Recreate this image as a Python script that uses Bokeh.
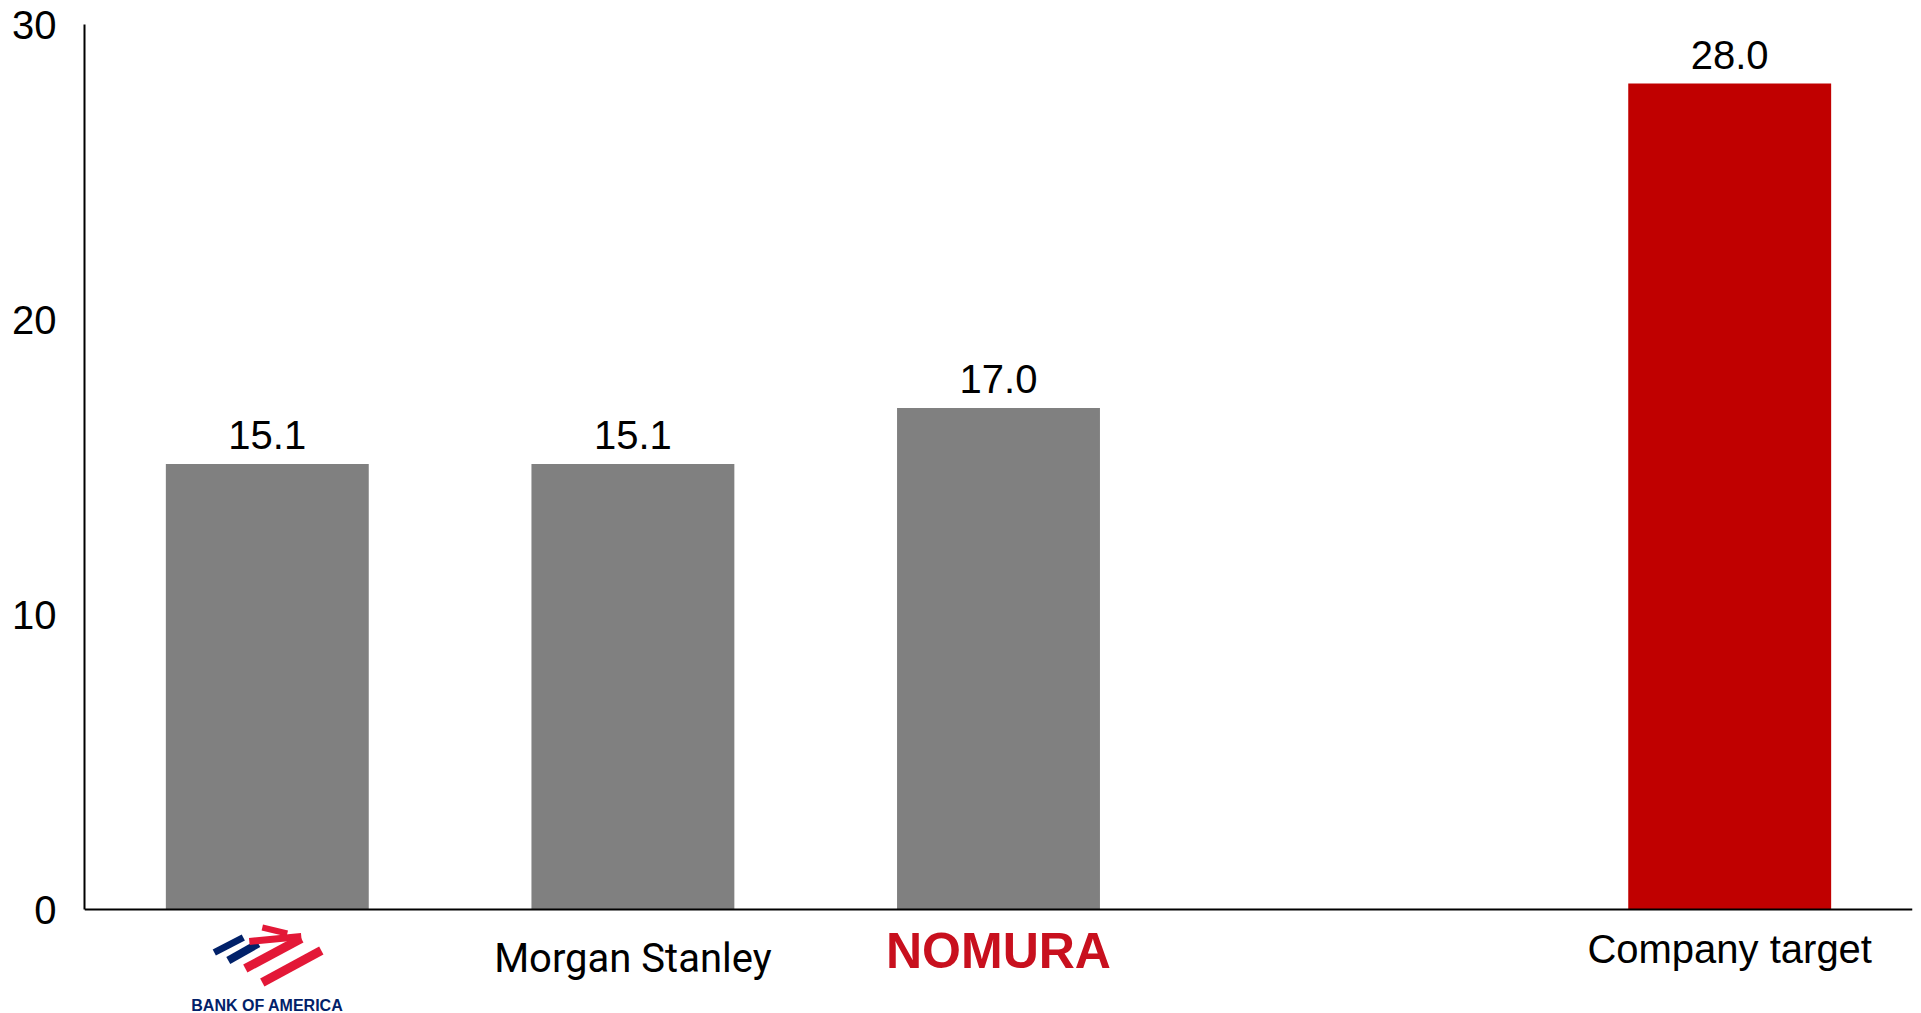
import math
from bokeh.plotting import figure
from bokeh.models import (FactorRange, Range1d, ColumnDataSource, LabelSet,
                          FixedTicker, Span, PolyAnnotation)
from bokeh.core.properties import value
from bokeh.embed import file_html
from bokeh.resources import INLINE

# ---------------- data ----------------
categories = ["Bank of America", "Morgan Stanley", "Nomura", "gap", "Company target"]
bar_categories = ["Bank of America", "Morgan Stanley", "Nomura", "Company target"]
values = [15.1, 15.1, 17.0, 28.0]
bar_colors = ["#808080", "#808080", "#808080", "#C00000"]
value_labels = ["15.1", "15.1", "17.0", "28.0"]
y_ticks = [0, 10, 20, 30]

# ---------------- layout ----------------
W, H = 1921, 1013
BL, BR, BT = 84, 9, 24
AXIS_Y = 909            # pixel row of the zero line
Y0, Y1 = 0, 30
px_y = (AXIS_Y - BT) / (Y1 - Y0)
y_bottom = -(H - AXIS_Y) / px_y   # extra room under zero for the logos

p = figure(width=W, height=H,
           x_range=FactorRange(factors=categories),
           y_range=Range1d(y_bottom, Y1),
           output_backend="svg", toolbar_location=None,
           min_border_left=BL, min_border_right=BR,
           min_border_top=BT, min_border_bottom=0)
p.outline_line_color = None
p.xgrid.visible = False
p.ygrid.visible = False
p.background_fill_color = "white"
p.border_fill_color = "white"

src = ColumnDataSource(dict(x=bar_categories, top=values, color=bar_colors, label=value_labels))
p.vbar(x="x", top="top", bottom=0, width=0.555, color="color", line_color=None, source=src)

# value labels
p.add_layout(LabelSet(x="x", y="top", text="label", source=src, y_offset=15,
                      text_align="center", text_baseline="alphabetic",
                      text_font=value("Liberation Sans"), text_font_size="40px",
                      text_color="#000000"))

# y axis
ax = p.yaxis[0]
ax.ticker = FixedTicker(ticks=y_ticks)
ax.bounds = (Y0, Y1)
ax.major_tick_line_color = None
ax.minor_tick_line_color = None
ax.major_tick_out = 0
ax.major_tick_in = 0
ax.axis_line_width = 2
ax.axis_line_color = "#000000"
ax.major_label_text_font = "Liberation Sans"
ax.major_label_text_font_size = "40px"
ax.major_label_text_color = "#000000"
ax.major_label_standoff = 28

# x axis: baseline only, labels drawn as logos below
p.xaxis.visible = False
p.add_layout(Span(location=0, dimension="width", line_color="#000000", line_width=2))


def logo_text(cat, txt, dy, font, size, color, style="normal"):
    s = ColumnDataSource(dict(x=[cat], y=[0], t=[txt]))
    p.add_layout(LabelSet(x="x", y="y", text="t", source=s, y_offset=-dy,
                          text_align="center", text_baseline="alphabetic",
                          text_font=value(font), text_font_size=size,
                          text_font_style=style, text_color=color))


logo_text("Morgan Stanley", "Morgan Stanley", 62, "Roboto", "40px", "#000000")
logo_text("Nomura", "NOMURA", 58, "Liberation Sans", "50px", "#C8101E", "bold")
logo_text("Company target", "Company target", 53, "Liberation Sans", "40px", "#000000")
logo_text("Bank of America", "BANK OF AMERICA", 101, "Liberation Sans", "16px", "#012169", "bold")

# Bank of America flag mark (logo-local pixel offsets from category centre / baseline)
px_x = (W - BL - BR) / len(categories)
cx = categories.index("Bank of America") + 0.5
flag_strokes = [
    ("#012169", (-53, 43), (-24, 28), 7),
    ("#012169", (-39, 51), (-9, 34), 8),
    ("#E31837", (-5, 18), (20, 24), 6),
    ("#E31837", (-18, 32), (34, 27), 7),
    ("#E31837", (-22, 59), (34, 29), 9),
    ("#E31837", (-5, 73), (54, 41), 9),
]
for col, (x1, y1), (x2, y2), t in flag_strokes:
    dx, dy = x2 - x1, y2 - y1
    L = math.hypot(dx, dy)
    nx, ny = -dy / L * t / 2, dx / L * t / 2
    pts = [(x1 + nx, y1 + ny), (x2 + nx, y2 + ny), (x2 - nx, y2 - ny), (x1 - nx, y1 - ny)]
    xs = [cx + px / px_x for px, _ in pts]
    ys = [-py / px_y for _, py in pts]
    p.add_layout(PolyAnnotation(xs=xs, ys=ys, fill_color=col, fill_alpha=1.0,
                                line_color=None))

open("out.html", "w").write(file_html(p, INLINE))
